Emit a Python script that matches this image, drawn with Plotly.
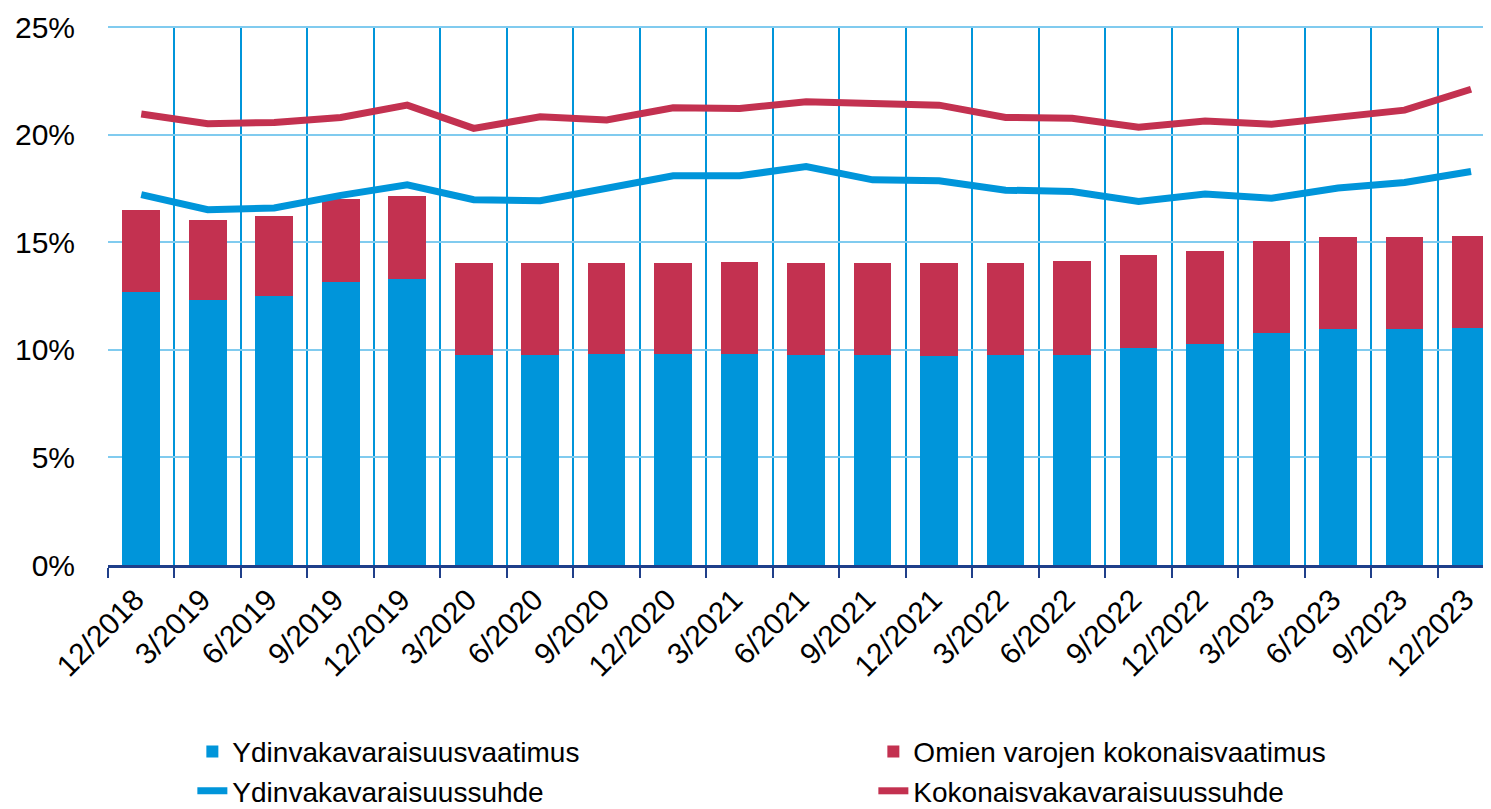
import plotly.graph_objects as go

categories = ["12/2018", "3/2019", "6/2019", "9/2019", "12/2019", "3/2020", "6/2020",
              "9/2020", "12/2020", "3/2021", "6/2021", "9/2021", "12/2021", "3/2022",
              "6/2022", "9/2022", "12/2022", "3/2023", "6/2023", "9/2023", "12/2023"]

# Ydinvakavaraisuusvaatimus (core requirement, %)
core_req = [12.67, 12.33, 12.48, 13.16, 13.30, 9.78, 9.78, 9.80, 9.80, 9.80, 9.75,
            9.75, 9.72, 9.74, 9.78, 10.08, 10.26, 10.79, 10.96, 10.96, 11.00]
# Omien varojen kokonaisvaatimus (total requirement, %)
total_req = [16.48, 16.03, 16.22, 17.02, 17.16, 14.04, 14.04, 14.04, 14.05, 14.07, 14.05,
             14.05, 14.04, 14.05, 14.11, 14.40, 14.60, 15.06, 15.25, 15.25, 15.28]
# Ydinvakavaraisuussuhde (CET1 ratio, %)
core_ratio = [17.21, 16.51, 16.59, 17.18, 17.67, 16.98, 16.93, 17.49, 18.09, 18.09, 18.52,
              17.90, 17.86, 17.42, 17.36, 16.90, 17.24, 17.05, 17.52, 17.78, 18.29]
# Kokonaisvakavaraisuussuhde (total capital ratio, %)
total_ratio = [20.96, 20.51, 20.57, 20.80, 21.37, 20.29, 20.83, 20.68, 21.25, 21.22, 21.53,
               21.48, 21.37, 20.80, 20.76, 20.34, 20.63, 20.48, 20.83, 21.14, 22.11]

series_names = ["Ydinvakavaraisuusvaatimus", "Omien varojen kokonaisvaatimus",
                "Ydinvakavaraisuussuhde", "Kokonaisvakavaraisuussuhde"]

y_ticks = [0, 5, 10, 15, 20, 25]

BLUE = "#0095DA"
RED = "#C33150"
FONT = "Liberation Sans, Arial, sans-serif"

extra_req = [t - c for t, c in zip(total_req, core_req)]

fig = go.Figure()
fig.add_trace(go.Bar(x=categories, y=core_req, name=series_names[0],
                     marker=dict(color=BLUE, line=dict(width=0))))
fig.add_trace(go.Bar(x=categories, y=extra_req, name=series_names[1],
                     marker=dict(color=RED, line=dict(width=0))))
fig.add_trace(go.Scatter(x=categories, y=core_ratio, name=series_names[2], mode="lines",
                         line=dict(color=BLUE, width=7)))
fig.add_trace(go.Scatter(x=categories, y=total_ratio, name=series_names[3], mode="lines",
                         line=dict(color=RED, width=7)))

fig.update_layout(
    width=1483, height=801,
    margin=dict(l=100, r=0, t=18, b=244, autoexpand=False),
    barmode="stack", bargap=0.434,
    plot_bgcolor="white", paper_bgcolor="white",
    font=dict(family=FONT, size=29, color="black"),
    showlegend=True,
    legend=dict(orientation="h", x=0.061, xanchor="left", y=-0.300, yanchor="top",
                entrywidth=636, entrywidthmode="pixels",
                font=dict(size=28, family=FONT, color="black"),
                traceorder="normal", itemwidth=30, tracegroupgap=0),
)
fig.update_xaxes(
    type="category", range=[-0.5, 20.3], automargin=False,
    tickson="boundaries", showgrid=True, gridcolor=BLUE, gridwidth=2,
    showline=True, linecolor="#1F3F8A", linewidth=3,
    ticks="outside", ticklen=10, tickwidth=2, tickcolor="#1F3F8A",
    tickangle=-45, tickfont=dict(size=30, family=FONT, color="black"),
    ticklabelstandoff=2, ticklabelshift=-6,
)
fig.update_yaxes(
    range=[0, 25.05], tickvals=y_ticks, ticktext=[f"{v}%" for v in y_ticks],
    showgrid=True, gridcolor="#80CBEF", gridwidth=2, zeroline=False, automargin=False,
    showline=False, ticks="", ticklabelstandoff=32,
    tickfont=dict(size=30, family=FONT, color="black"),
)

fig.write_html("out.html")
